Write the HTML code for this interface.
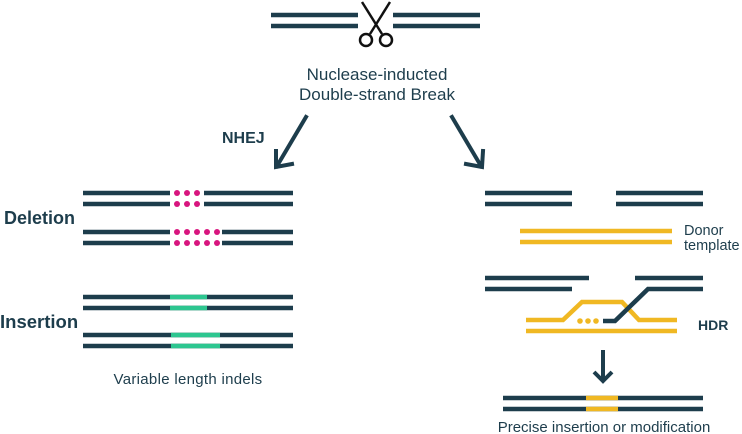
<!DOCTYPE html>
<html><head><meta charset="utf-8"><style>
body{margin:0;background:#fff}
svg{display:block;font-family:"Liberation Sans",sans-serif}
</style></head><body>
<svg width="742" height="434" viewBox="0 0 742 434">
<g stroke="#1d3d4c" stroke-width="4.5" fill="none">
<line x1="271" y1="15" x2="358" y2="15"/><line x1="271" y1="26" x2="358" y2="26"/>
<line x1="393" y1="15" x2="480" y2="15"/><line x1="393" y1="26" x2="480" y2="26"/>
</g>
<g stroke="#111" stroke-width="2.5" fill="none">
<line x1="362" y1="2" x2="382" y2="34"/><line x1="390" y1="2" x2="370" y2="34"/>
<circle cx="366" cy="40" r="6"/><circle cx="386" cy="40" r="6"/>
</g>
<g fill="#1d3d4c" font-size="17" text-anchor="middle">
<text x="377" y="80">Nuclease-inducted</text><text x="377" y="100">Double-strand Break</text>
</g>
<g stroke="#1d3d4c" stroke-width="4" fill="none" stroke-linecap="square">
<line x1="306" y1="117" x2="277" y2="166"/><polyline points="276,151 276,167 292,164"/>
<line x1="452" y1="117" x2="481" y2="166"/><polyline points="466,164 482,167 483,151"/>
</g>
<text x="222" y="143" font-size="16" font-weight="bold" fill="#1d3d4c">NHEJ</text>
<text x="4" y="224" font-size="18" font-weight="bold" fill="#1d3d4c">Deletion</text>
<text x="0" y="328" font-size="18.5" font-weight="bold" fill="#1d3d4c">Insertion</text>
<g stroke="#1d3d4c" stroke-width="4.5">
<line x1="83" y1="193" x2="170" y2="193"/><line x1="204" y1="193" x2="293" y2="193"/>
<line x1="83" y1="204" x2="170" y2="204"/><line x1="204" y1="204" x2="293" y2="204"/>
<line x1="83" y1="232" x2="170" y2="232"/><line x1="222" y1="232" x2="293" y2="232"/>
<line x1="83" y1="243" x2="170" y2="243"/><line x1="222" y1="243" x2="293" y2="243"/>
</g>
<g fill="#d8157e">
<circle cx="177" cy="193" r="3"/><circle cx="187" cy="193" r="3"/><circle cx="197" cy="193" r="3"/>
<circle cx="177" cy="204" r="3"/><circle cx="187" cy="204" r="3"/><circle cx="197" cy="204" r="3"/>
<circle cx="177" cy="232" r="3"/><circle cx="187" cy="232" r="3"/><circle cx="197" cy="232" r="3"/><circle cx="207" cy="232" r="3"/><circle cx="217" cy="232" r="3"/>
<circle cx="177" cy="243" r="3"/><circle cx="187" cy="243" r="3"/><circle cx="197" cy="243" r="3"/><circle cx="207" cy="243" r="3"/><circle cx="217" cy="243" r="3"/>
</g>
<g stroke-width="4.5">
<g stroke="#1d3d4c"><line x1="83" y1="297" x2="293" y2="297"/><line x1="83" y1="308" x2="293" y2="308"/>
<line x1="83" y1="335" x2="293" y2="335"/><line x1="83" y1="346" x2="293" y2="346"/></g>
<g stroke="#2dc690"><line x1="170" y1="297" x2="207" y2="297"/><line x1="170" y1="308" x2="207" y2="308"/>
<line x1="171" y1="335" x2="220" y2="335"/><line x1="171" y1="346" x2="220" y2="346"/></g>
</g>
<text x="188" y="384" font-size="15" letter-spacing="0.3" fill="#1d3d4c" text-anchor="middle">Variable length indels</text>
<g stroke-width="4.5" fill="none">
<g stroke="#1d3d4c">
<line x1="485" y1="193" x2="572" y2="193"/><line x1="485" y1="204" x2="572" y2="204"/>
<line x1="616" y1="193" x2="703" y2="193"/><line x1="616" y1="204" x2="703" y2="204"/>
<line x1="485" y1="278" x2="589" y2="278"/><line x1="635" y1="278" x2="703" y2="278"/>
<line x1="485" y1="289" x2="572" y2="289"/>
</g>
<g stroke="#f0b823">
<line x1="520" y1="231" x2="672" y2="231"/><line x1="520" y1="242" x2="672" y2="242"/>
<polyline points="526,320 563,320 582,302 622,302 639,320 677,320"/>
<line x1="526" y1="331" x2="677" y2="331"/>
</g>
<polyline stroke="#1d3d4c" points="703,289 648,289 615,321 603,321"/>
<line stroke="#1d3d4c" x1="503" y1="398" x2="703" y2="398"/><line stroke="#1d3d4c" x1="503" y1="409" x2="703" y2="409"/>
<line stroke="#f0b823" x1="586" y1="398" x2="618" y2="398"/><line stroke="#f0b823" x1="586" y1="409" x2="618" y2="409"/>
</g>
<g fill="#f0b823"><circle cx="580" cy="321" r="2.8"/><circle cx="588" cy="321" r="2.8"/><circle cx="596" cy="321" r="2.8"/></g>
<g fill="#1d3d4c" font-size="14.5"><text x="684" y="235">Donor</text><text x="684" y="250">template</text></g>
<text x="698" y="330" font-size="14" font-weight="bold" fill="#1d3d4c">HDR</text>
<g stroke="#1d3d4c" stroke-width="4" fill="none">
<line x1="603" y1="350" x2="603" y2="380"/><polyline points="594,372 603,381 612,372"/>
</g>
<text x="604" y="432" font-size="15" fill="#1d3d4c" text-anchor="middle">Precise insertion or modification</text>
</svg>
</body></html>
